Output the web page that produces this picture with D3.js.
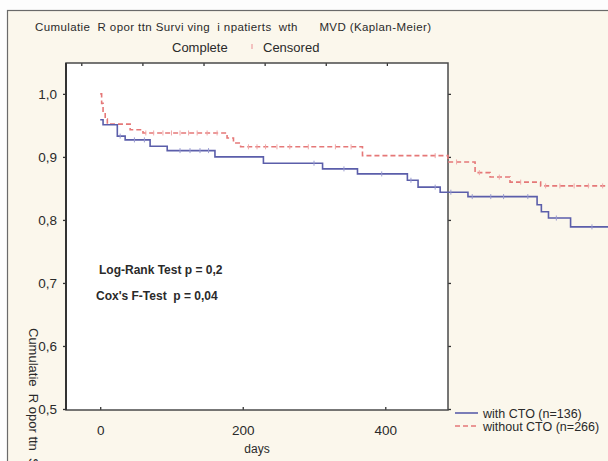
<!DOCTYPE html>
<html>
<head>
<meta charset="utf-8">
<title>Kaplan-Meier MVD</title>
<script src="https://d3js.org/d3.v7.min.js"></script>
<style>
  body { margin: 0; background: #fdfdfd; }
  text { font-family: "Liberation Sans", Arial, sans-serif; fill: #2a2a2a; }
</style>
</head>
<body>
<div id="svgContainer"></div>
<script>
// step points of the two survival curves (days, cumulative proportion)
var withDays = [0, 4, 24, 35, 70, 94, 161, 229, 312, 361, 431, 446, 477, 516, 613, 619, 629, 660, 715];
var withSurv = [0.959, 0.951, 0.933, 0.927, 0.917, 0.910, 0.900, 0.890, 0.881, 0.873, 0.863, 0.852, 0.844, 0.837, 0.824, 0.813, 0.803, 0.789, 0.789];
var withoutDays = [0, 2, 4, 7, 10, 42, 60, 178, 187, 197, 368, 488, 526, 547, 575, 618, 715];
var withoutSurv = [1.0, 0.985, 0.97, 0.96, 0.952, 0.943, 0.938, 0.930, 0.922, 0.916, 0.902, 0.892, 0.875, 0.868, 0.860, 0.854, 0.854];
// censored observations (days)
var withCensored = [28, 48, 62, 112, 126, 140, 152, 300, 342, 395, 436, 470, 492, 522, 548, 566, 600, 640, 690];
var withoutCensored = [64, 75, 88, 100, 112, 124, 136, 150, 164, 208, 220, 232, 248, 266, 292, 330, 352, 470, 500, 532, 560, 590, 625, 645, 665, 685, 705];

var xTicks = [0, 200, 400];
var yTicks = [0.5, 0.6, 0.7, 0.8, 0.9, 1.0];
var topTicks = [0, 1, 2, 3, 4, 5];
var seriesNames = ["with CTO (n=136)", "without CTO (n=266)"];

var W = 608, H = 461;
var plot = { left: 66, right: 448, top: 63, bottom: 410 };

var svg = d3.select("#svgContainer").append("svg")
    .attr("width", W).attr("height", H);

// outer panel
svg.append("rect").attr("x", 7.5).attr("y", 10.5).attr("width", W).attr("height", H)
    .attr("fill", "#fbf7ec").attr("stroke", "#6a6a6a").attr("stroke-width", 1.2);

var x = d3.scaleLinear().domain([-48, 488]).range([plot.left, plot.right]);
var y = d3.scaleLinear().domain([0.4984, 1.049]).range([plot.bottom, plot.top]);
var xTop = d3.scaleLinear().domain([-0.25, 6]).range([plot.left, plot.right]);

svg.append("rect").attr("x", plot.left).attr("y", plot.top)
    .attr("width", plot.right - plot.left).attr("height", plot.bottom - plot.top)
    .attr("fill", "#fff");

// title + top legend
svg.append("text").attr("x", 35).attr("y", 31)
    .attr("textLength", 396).attr("lengthAdjust", "spacing")
    .style("font-size", "11.5px").style("white-space", "pre")
    .text("Cumulatie  R opor ttn Survi ving  i npatierts  wth      MVD (Kaplan-Meier)");
svg.append("text").attr("x", 172).attr("y", 52).style("font-size", "13px").text("Complete");
svg.append("line").attr("x1", 252).attr("x2", 252).attr("y1", 44).attr("y2", 49)
    .attr("stroke", "#f0b0b0").attr("stroke-width", 1.5);
svg.append("text").attr("x", 263).attr("y", 52).style("font-size", "13px").text("Censored");

// axes
var fmt = function(d) { return d3.format(".1f")(d).replace(".", ","); };
var yAxis = svg.append("g").attr("transform", "translate(" + plot.left + ",0)")
    .call(d3.axisLeft(y).tickValues(yTicks).tickFormat(fmt).tickSize(3).tickPadding(6));
var yAxisR = svg.append("g").attr("transform", "translate(" + plot.right + ",0)")
    .call(d3.axisRight(y).tickValues(yTicks).tickFormat("").tickSize(3));
var xAxis = svg.append("g").attr("transform", "translate(0," + plot.bottom + ")")
    .call(d3.axisBottom(x).tickValues(xTicks).tickSize(-3).tickPadding(15));
var xAxisT = svg.append("g").attr("transform", "translate(0," + plot.top + ")")
    .call(d3.axisTop(xTop).tickValues(topTicks).tickFormat("").tickSize(-3));
[yAxis, yAxisR, xAxis, xAxisT].forEach(function(g) {
    g.select(".domain").remove();
    g.selectAll(".tick line").attr("stroke", "#333").attr("stroke-width", 1.3);
    g.selectAll("text").style("font-size", "13.5px").attr("fill", "#2a2a2a");
});

// frame
svg.append("rect").attr("x", plot.left).attr("y", plot.top)
    .attr("width", plot.right - plot.left).attr("height", plot.bottom - plot.top)
    .attr("fill", "none").attr("stroke", "#4a4a4a").attr("stroke-width", 1.5);
svg.append("line").attr("x1", plot.left).attr("x2", plot.left)
    .attr("y1", plot.top).attr("y2", plot.bottom)
    .attr("stroke", "#333").attr("stroke-width", 2);

// axis titles
svg.append("text").attr("x", 257).attr("y", 453).attr("text-anchor", "middle")
    .style("font-size", "12px").text("days");
svg.append("text").attr("transform", "translate(29,328) rotate(90)")
    .style("font-size", "13px").style("white-space", "pre")
    .text("Cumulatie  R opor ttn  Surviving");

// curves
var line = d3.line().curve(d3.curveStepAfter)
    .x(function(d) { return x(d[0]); })
    .y(function(d) { return y(d[1]); });
var withPts = d3.zip(withDays, withSurv);
var withoutPts = d3.zip(withoutDays, withoutSurv);

function survAt(days, surv, t) {
    var i = d3.bisectRight(days, t) - 1;
    return surv[Math.max(0, i)];
}

svg.append("path").datum(withoutPts).attr("d", line)
    .attr("fill", "none").attr("stroke", "#e57878").attr("stroke-width", 1.6)
    .attr("stroke-dasharray", "5,3");
svg.append("path").datum(withPts).attr("d", line)
    .attr("fill", "none").attr("stroke", "#5b5eaa").attr("stroke-width", 1.6);

svg.selectAll(".cw").data(withCensored).enter().append("line")
    .attr("x1", function(d) { return x(d); }).attr("x2", function(d) { return x(d); })
    .attr("y1", function(d) { return y(survAt(withDays, withSurv, d)) - 2.5; })
    .attr("y2", function(d) { return y(survAt(withDays, withSurv, d)) + 2.5; })
    .attr("stroke", "#9a9cd0").attr("stroke-width", 1);
svg.selectAll(".cwo").data(withoutCensored).enter().append("line")
    .attr("x1", function(d) { return x(d); }).attr("x2", function(d) { return x(d); })
    .attr("y1", function(d) { return y(survAt(withoutDays, withoutSurv, d)) - 2.5; })
    .attr("y2", function(d) { return y(survAt(withoutDays, withoutSurv, d)) + 2.5; })
    .attr("stroke", "#f0a8a8").attr("stroke-width", 1);

// test annotations
svg.append("text").attr("x", 99).attr("y", 274).style("font-size", "12px")
    .style("font-weight", "bold").attr("fill", "#111").text("Log-Rank Test p = 0,2");
svg.append("text").attr("x", 96).attr("y", 300).style("font-size", "12px")
    .style("font-weight", "bold").attr("fill", "#111").style("white-space", "pre")
    .text("Cox's F-Test  p = 0,04");

// legend
var legend = svg.append("g");
seriesNames.forEach(function(name, i) {
    var ly = 413 + i * 13;
    legend.append("line").attr("x1", 455).attr("x2", 478).attr("y1", ly).attr("y2", ly)
        .attr("stroke", i === 0 ? "#5b5eaa" : "#e57878").attr("stroke-width", 1.6)
        .attr("stroke-dasharray", i === 0 ? null : "5,3");
    legend.append("text").attr("x", 483).attr("y", ly + 4.5)
        .style("font-size", "12.5px").text(name);
});
</script>
</body>
</html>
